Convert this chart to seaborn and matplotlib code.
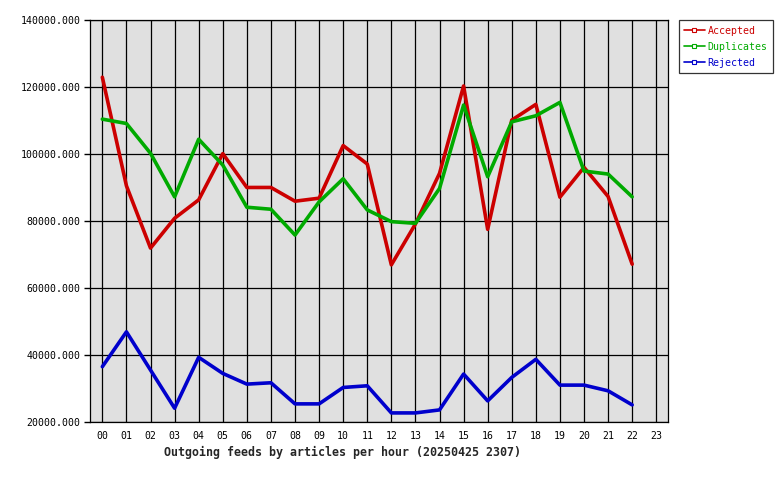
import numpy as np
import pandas as pd
import matplotlib
matplotlib.use("Agg")
import matplotlib.pyplot as plt
import seaborn as sns

# hourly article counts
hours = list(range(23))
hour_labels = [f"{h:02d}" for h in range(24)]
accepted = [123000, 90600, 72000, 80900, 86400, 100200, 90100, 90100, 86000, 86900,
            102600, 97100, 67000, 79200, 94300, 120400, 77600, 110200, 114900, 87200,
            96100, 87400, 67200]
duplicates = [110500, 109200, 100300, 87300, 104500, 96800, 84200, 83600, 75900, 85800,
              92700, 83400, 79900, 79400, 89800, 114700, 93300, 109700, 111500, 115500,
              95000, 94100, 87300]
rejected = [36600, 47000, 35600, 24200, 39400, 34600, 31400, 31800, 25500, 25500,
            30400, 30900, 22800, 22800, 23700, 34400, 26400, 33400, 38800, 31100,
            31100, 29400, 25200]
series_names = ["Accepted", "Duplicates", "Rejected"]
series_colors = ["#cc0000", "#00aa00", "#0000cc"]
y_ticks = [20000, 40000, 60000, 80000, 100000, 120000, 140000]
title = "Outgoing feeds by articles per hour (20250425 2307)"

df = pd.DataFrame({"hour": hours, "Accepted": accepted,
                   "Duplicates": duplicates, "Rejected": rejected})
df_long = pd.melt(df, id_vars=["hour"], value_vars=series_names,
                  var_name="series", value_name="articles")

sns.set_style("ticks")
plt.rcParams["font.family"] = ["DejaVu Sans Mono"]

fig = plt.figure(figsize=(7.8, 4.8), dpi=100)
ax = fig.add_axes([90.3 / 780, 1 - 422.3 / 480, 578 / 780, 402 / 480])
ax.set_facecolor("#e0e0e0")

sns.lineplot(data=df_long, x="hour", y="articles", hue="series",
             palette=dict(zip(series_names, series_colors)),
             linewidth=2.6, ax=ax, legend=False, zorder=3)

ax.set_xlim(-0.5, 23.5)
ax.set_ylim(20000, 140000)
ax.set_xticks(range(24))
ax.set_xticklabels(hour_labels, fontsize=7.1, color="black")
ax.set_yticks(y_ticks)
ax.set_yticklabels([f"{v}.000" for v in y_ticks], fontsize=7.1, color="black")
ax.tick_params(axis="x", length=0, pad=6)
ax.tick_params(axis="y", length=4, width=1, pad=3, color="black")
ax.grid(True, color="black", linewidth=0.9, zorder=1)
ax.set_axisbelow(True)
for s in ax.spines.values():
    s.set_visible(True)
    s.set_color("black")
    s.set_linewidth(0.9)
ax.set_xlabel("")
ax.set_ylabel("")

handles = [plt.Line2D([], [], color=c, linewidth=1.2, marker="s", markersize=3,
                      markerfacecolor="white", markeredgecolor=c, markeredgewidth=0.8)
           for c in series_colors]
leg = fig.legend(handles, series_names, loc="upper left",
                 bbox_to_anchor=(678.5 / 780, 1 - 20.3 / 480),
                 fontsize=7.1, frameon=True, fancybox=False, edgecolor="black",
                 handlelength=2.1, handletextpad=0.3, borderpad=0.55,
                 labelspacing=0.6, borderaxespad=0)
leg.get_frame().set_linewidth(0.9)
for txt, c in zip(leg.get_texts(), series_colors):
    txt.set_color(c)

fig.text(343 / 780, 1 - 452 / 480, title, ha="center", va="center",
         fontsize=8.4, fontweight="bold")

fig.savefig("out.png", dpi=100, facecolor="white")
